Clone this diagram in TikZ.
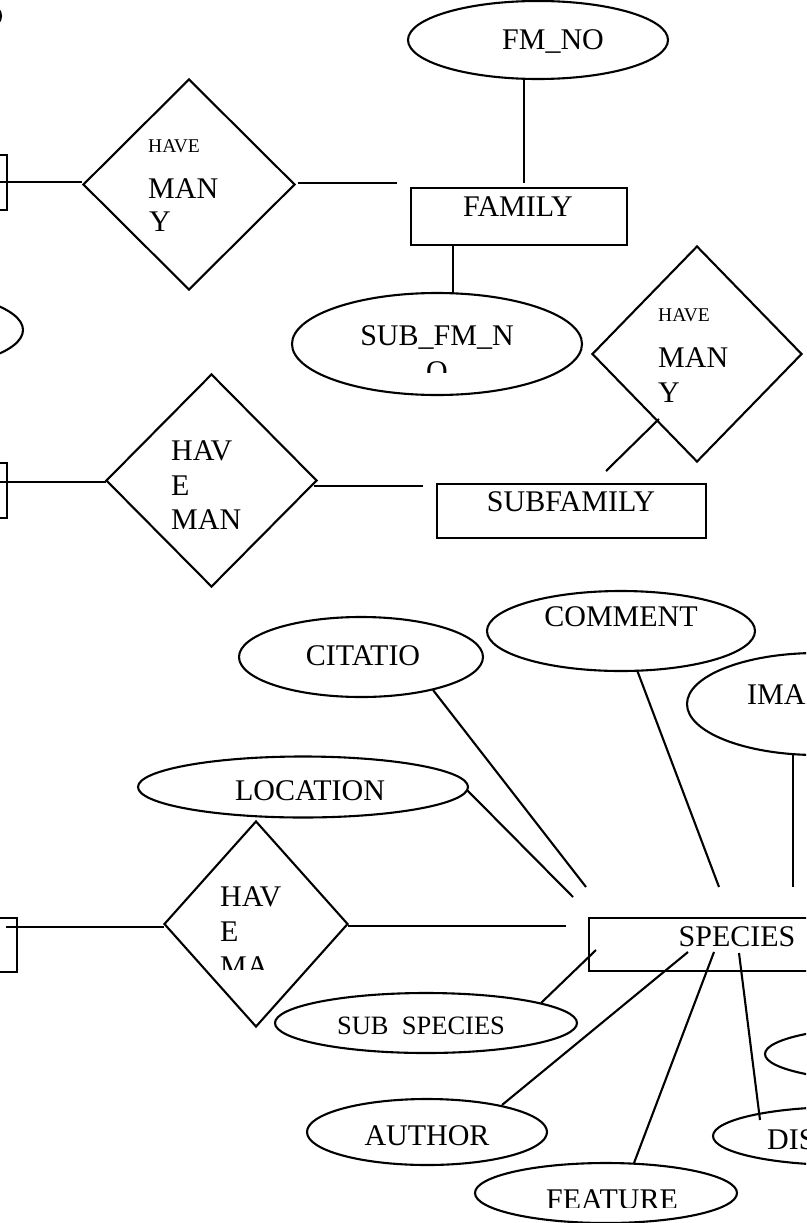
\documentclass[tikz,border=0pt]{standalone}
\usepackage{fontspec}
\setmainfont{Liberation Serif}
\usetikzlibrary{shapes.geometric}
\begin{document}
\begin{tikzpicture}[x=1pt,y=-1pt,
  attr/.style={ellipse, draw, line width=2.1pt, inner sep=0pt},
  ent/.style={rectangle, draw, line width=1.4pt, inner sep=0pt},
  rel/.style={diamond, draw, line width=2.1pt, inner sep=0pt},
  lbl/.style={font=\fontsize{30}{35}\selectfont, inner sep=0pt, text height=19.8pt, text depth=0pt},
  slbl/.style={font=\fontsize{19.5}{22}\selectfont, inner sep=0pt, text height=12.9pt, text depth=0pt},
  conn/.style={line width=2.1pt}]
\useasboundingbox (0,0) rectangle (806,1223);
\fill[white] (0,0) rectangle (806,1223);
\clip (0,0) rectangle (806,1223);

% ---------- entities ----------
\node[ent, minimum width=216pt, minimum height=57pt] (family) at (519,216.5) {};
\node[ent, minimum width=269pt, minimum height=54pt] (subfamily) at (571.5,511) {};
\node[ent, minimum width=311pt, minimum height=53pt] (species) at (744.5,944.5) {};
\node[ent, minimum width=107pt, minimum height=55pt] (left1) at (-46.5,182.5) {};
\node[ent, minimum width=107pt, minimum height=55pt] (left2) at (-46.5,490.5) {};
\node[ent, minimum width=117pt, minimum height=54pt] (left3) at (-41.5,945) {};

% ---------- relationships ----------
\node[rel, minimum width=212pt, minimum height=211pt] (have1) at (189,184.5) {};
\node[rel, minimum width=210pt, minimum height=216pt] (have2) at (697,354) {};
\node[rel, minimum width=211pt, minimum height=213pt] (have3) at (211.5,480.5) {};
\node[rel, minimum width=184pt, minimum height=206pt] (have4) at (256,924) {};

% ---------- attributes ----------
\node[attr, minimum width=260pt, minimum height=78pt] (fmno) at (538,40) {};
\node[attr, minimum width=290pt, minimum height=102pt] (subfmno) at (437,344) {};
\node[attr, minimum width=254pt, minimum height=70pt] (topleft) at (-126,16) {};
\node[attr, minimum width=246pt, minimum height=80pt] (leftell) at (-100,330) {};
\node[attr, minimum width=244pt, minimum height=80pt] (citatio) at (361,657) {};
\node[attr, minimum width=268pt, minimum height=80pt] (comment) at (621,631) {};
\node[attr, minimum width=260pt, minimum height=102pt] (image) at (817,704) {};
\node[attr, minimum width=330pt, minimum height=61pt] (location) at (303,787) {};
\node[attr, minimum width=302pt, minimum height=60pt] (subspecies) at (426,1023) {};
\node[attr, minimum width=240pt, minimum height=66pt] (author) at (427,1132) {};
\node[attr, minimum width=262pt, minimum height=60pt] (feature) at (606,1193) {};
\node[attr, minimum width=260pt, minimum height=58pt] (dis) at (843,1136) {};
\node[attr, minimum width=260pt, minimum height=55pt] (rightell) at (895,1054) {};

% ---------- labels ----------
\node[lbl] (fmnoT) at (553,40) {FM\_NO};
\node[lbl] (familyT) at (518,207) {FAMILY};
\node[lbl] (subfmnoT) at (437,336) {SUB\_FM\_N};
\begin{scope}
  \clip (300,300) rectangle (580,372);
  \node[lbl] (subfmnoT2) at (437,372) {O};
\end{scope}
\node[slbl, anchor=west] (have1a) at (148,146) {HAVE};
\node[lbl, anchor=west] (have1b) at (148,189) {MAN};
\node[lbl, anchor=west] (have1c) at (149,222) {Y};
\node[slbl, anchor=west] (have2a) at (658,315) {HAVE};
\node[lbl, anchor=west] (have2b) at (658,358) {MAN};
\node[lbl, anchor=west] (have2c) at (658,393) {Y};
\node[lbl, anchor=west] (have3a) at (171,451) {HAV};
\node[lbl, anchor=west] (have3b) at (171,486) {E};
\begin{scope}
  \clip (150,500) rectangle (300,529);
  \node[lbl, anchor=west] (have3c) at (171,520) {MAN};
\end{scope}
\node[lbl, anchor=west] (have4a) at (220,897) {HAV};
\node[lbl, anchor=west] (have4b) at (220,932) {E};
\begin{scope}
  \clip (200,945) rectangle (320,969);
  \node[lbl, anchor=west] (have4c) at (220,967) {MA};
\end{scope}
\node[lbl] (subfamilyT) at (571,502) {SUBFAMILY};
\node[lbl] (citatioT) at (363,656) {CITATIO};
\node[lbl] (commentT) at (621,617) {COMMENT};
\node[lbl, anchor=west] (imageT) at (747,695) {IMA};
\node[lbl] (locationT) at (310,791) {LOCATION};
\node[lbl] (speciesT) at (737,937) {SPECIES};
\node[lbl, font=\fontsize{26.5}{30}\selectfont, text height=17.6pt] (subspeciesT) at (421,1026) {SUB\ \ SPECIES};
\node[lbl] (authorT) at (427,1136) {AUTHOR};
\begin{scope}
  \clip (500,1170) rectangle (720,1207);
  \node[lbl] (featureT) at (612,1200) {FEATURE};
\end{scope}
\node[lbl, anchor=west] (disT) at (767,1140) {DIS};

% ---------- connector end points ----------
\coordinate (c1a) at (524,80);   \coordinate (c1b) at (524,183);
\coordinate (c2a) at (453,245);  \coordinate (c2b) at (453,293);
\coordinate (c3a) at (-5,182);   \coordinate (c3b) at (82,182);
\coordinate (c4a) at (298,183);  \coordinate (c4b) at (397,183);
\coordinate (c5a) at (606,471);  \coordinate (c5b) at (659,419);
\coordinate (c6a) at (-5,482);   \coordinate (c6b) at (106,482);
\coordinate (c7a) at (314,486);  \coordinate (c7b) at (423,486);
\coordinate (c8a) at (6,927);    \coordinate (c8b) at (164,927);
\coordinate (c9a) at (348,926);  \coordinate (c9b) at (566,926);
\coordinate (c10a) at (433,690); \coordinate (c10b) at (586,887);
\coordinate (c11a) at (467,790); \coordinate (c11b) at (573,897);
\coordinate (c12a) at (637,670); \coordinate (c12b) at (719,887);
\coordinate (c13a) at (793,755); \coordinate (c13b) at (793,887);
\coordinate (c14a) at (541,1003);\coordinate (c14b) at (596,950);
\coordinate (c15a) at (688,952); \coordinate (c15b) at (502,1105);
\coordinate (c16a) at (714,952); \coordinate (c16b) at (634,1163);
\coordinate (c17a) at (739,953); \coordinate (c17b) at (760,1120);

% ---------- connectors ----------
\draw[conn] (c1a) -- (c1b);
\draw[conn] (c2a) -- (c2b);
\draw[conn] (c3a) -- (c3b);
\draw[conn] (c4a) -- (c4b);
\draw[conn] (c5a) -- (c5b);
\draw[conn] (c6a) -- (c6b);
\draw[conn] (c7a) -- (c7b);
\draw[conn] (c8a) -- (c8b);
\draw[conn] (c9a) -- (c9b);
\draw[conn] (c10a) -- (c10b);
\draw[conn] (c11a) -- (c11b);
\draw[conn] (c12a) -- (c12b);
\draw[conn] (c13a) -- (c13b);
\draw[conn] (c14a) -- (c14b);
\draw[conn] (c15a) -- (c15b);
\draw[conn] (c16a) -- (c16b);
\draw[conn] (c17a) -- (c17b);
\end{tikzpicture}
\end{document}
